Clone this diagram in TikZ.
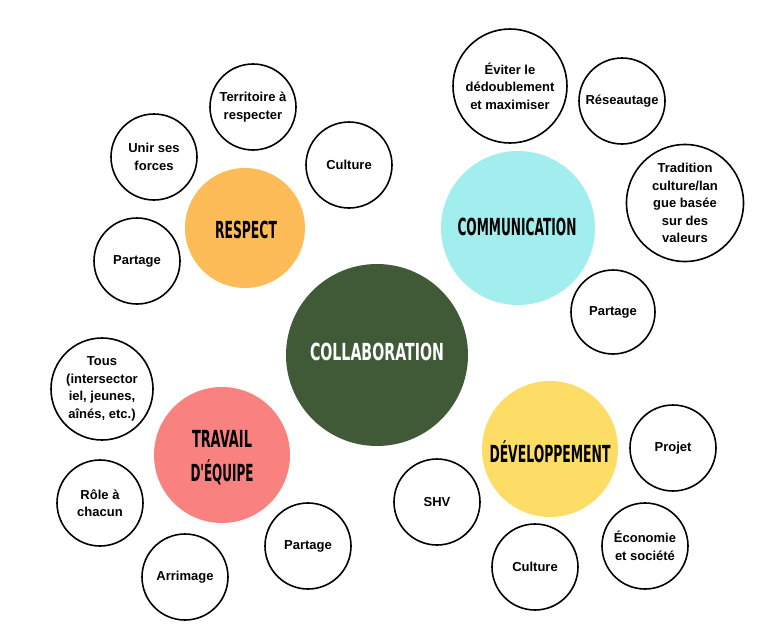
\documentclass[tikz,border=0pt]{standalone}
\usepackage{fontspec}
\usepackage{graphicx}
\setmainfont{Liberation Sans}
\newfontfamily\headfont{DejaVu Sans}
\definecolor{hubgreen}{HTML}{405A38}
\definecolor{huborange}{HTML}{FEBC59}
\definecolor{hubcyan}{HTML}{A2EDEE}
\definecolor{hubsalmon}{HTML}{F98180}
\definecolor{hubyellow}{HTML}{FDDD65}
% condensed display caps: scaled horizontally to a given width
\newcommand\headtext[2]{\resizebox{#1}{\height}{\headfont\bfseries\fontsize{23.5}{23.5}\selectfont #2}}
\tikzset{
  hub/.style={circle, inner sep=0pt, draw=none},
  hubtext/.style={inner sep=0pt, anchor=base},
  leaf/.style={circle, draw=black, line width=1.6pt, inner sep=0pt, align=center,
    font=\bfseries\fontsize{13}{17.5}\selectfont},
  small/.style={leaf, minimum size=86pt},
}
\begin{document}
\begin{tikzpicture}[x=1pt, y=-1pt]
\useasboundingbox (0,0) rectangle (777,635);

% central hub
\node[hub, fill=hubgreen, minimum size=182pt] (collab) at (377,355) {};
\node[hubtext, text=white] (collab-t) at (377,360) {\headtext{134pt}{COLLABORATION}};

% RESPECT group
\node[hub, fill=huborange, minimum size=120pt] (respect) at (245,228) {};
\node[hubtext] (respect-t) at (246,238) {\headtext{62pt}{RESPECT}};
\node[small] (territoire) at (253,107) {Territoire à\\respecter};
\node[small] (culture1) at (349,165) {Culture};
\node[small] (unir) at (154,157) {Unir ses\\forces};
\node[small] (partage1) at (137,261) {Partage};

% COMMUNICATION group
\node[hub, fill=hubcyan, minimum size=154pt] (comm) at (518,228) {};
\node[hubtext] (comm-t) at (517,235) {\headtext{119pt}{COMMUNICATION}};
\node[leaf, minimum size=114pt] (eviter) at (510,86) {Éviter le\\dédoublement\\et maximiser};
\node[small] (reseau) at (622,101) {Réseautage};
\node[leaf, minimum size=117pt] (tradition) at (685,203) {Tradition\\culture/lan\\gue basée\\sur des\\valeurs};
\node[leaf, minimum size=84pt] (partage2) at (613,312) {Partage};

% TRAVAIL D'ÉQUIPE group
\node[hub, fill=hubsalmon, minimum size=136pt] (travail) at (222,455) {};
\node[hubtext] (travail-t1) at (222,447) {\headtext{60pt}{TRAVAIL}};
\node[hubtext] (travail-t2) at (222,481) {\headtext{63pt}{D'ÉQUIPE}};
\node[leaf, minimum size=102pt] (tous) at (102,389) {Tous\\(intersector\\iel, jeunes,\\aînés, etc.)};
\node[small] (role) at (100,503) {Rôle à\\chacun};
\node[small] (arrimage) at (185,577) {Arrimage};
\node[small] (partage3) at (308,546) {Partage};

% DÉVELOPPEMENT group
\node[hub, fill=hubyellow, minimum size=136pt] (dev) at (550,449) {};
\node[hubtext] (dev-t) at (550,462) {\headtext{121pt}{DÉVELOPPEMENT}};
\node[small] (shv) at (437,502) {SHV};
\node[small] (culture2) at (535,567) {Culture};
\node[small] (economie) at (645,546) {Économie\\et société};
\node[small] (projet) at (673,448) {Projet};
\end{tikzpicture}
\end{document}
